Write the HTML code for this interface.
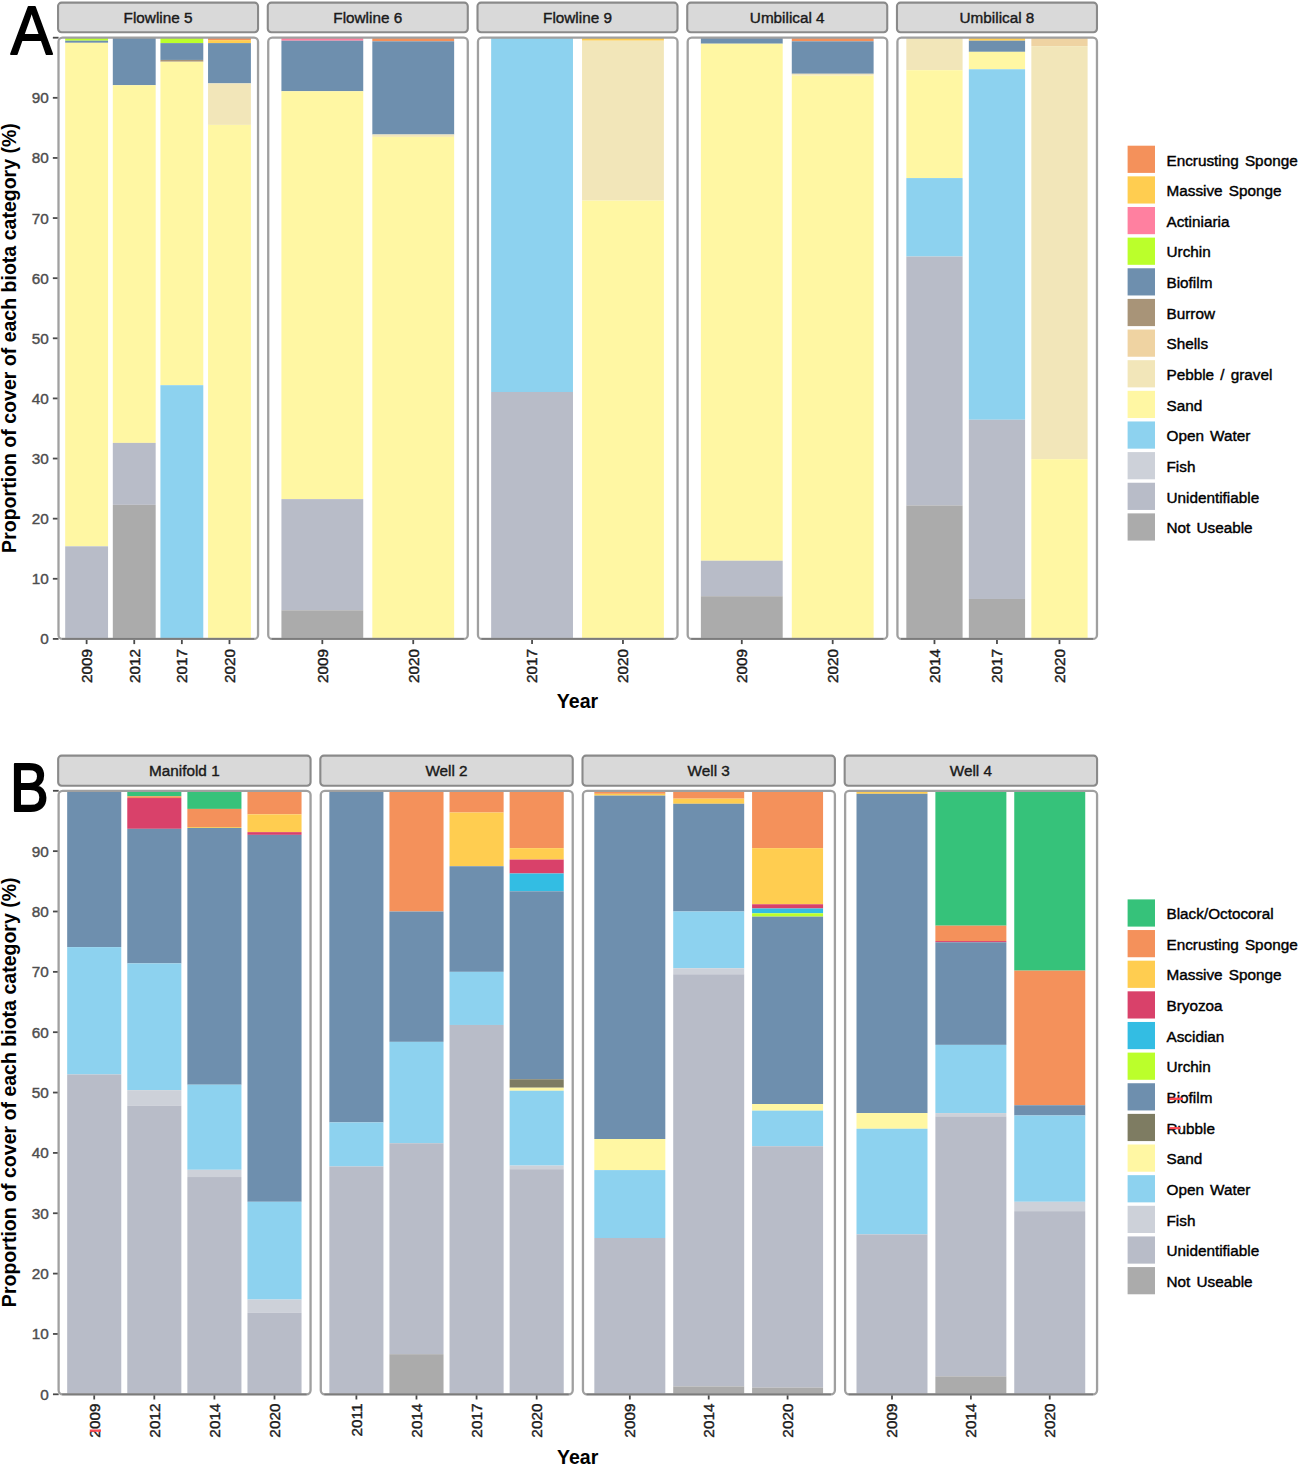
<!DOCTYPE html>
<html><head><meta charset="utf-8"><style>
html,body{margin:0;padding:0;background:#fff;width:1299px;height:1464px;overflow:hidden}
svg{display:block}
text{font-family:"Liberation Sans", sans-serif}
.t{stroke-width:0.35px}
</style></head><body>
<svg width="1299" height="1464" viewBox="0 0 1299 1464">
<rect width="1299" height="1464" fill="#fff"/>
<text transform="translate(10.68,53.6) scale(0.9,1)" font-size="69.48" fill="#000" stroke="#000" stroke-width="1.8" stroke-linejoin="round">A</text>
<line x1="52.85" y1="638.9" x2="58.55" y2="638.9" stroke="#4a4a4a" stroke-width="1.8"/>
<text x="48.65" y="644.4" text-anchor="end" font-size="15.3" fill="#4d4d4d" stroke="#4d4d4d" stroke-width="0.4">0</text>
<line x1="52.85" y1="578.78" x2="58.55" y2="578.78" stroke="#4a4a4a" stroke-width="1.8"/>
<text x="48.65" y="584.28" text-anchor="end" font-size="15.3" fill="#4d4d4d" stroke="#4d4d4d" stroke-width="0.4">10</text>
<line x1="52.85" y1="518.66" x2="58.55" y2="518.66" stroke="#4a4a4a" stroke-width="1.8"/>
<text x="48.65" y="524.16" text-anchor="end" font-size="15.3" fill="#4d4d4d" stroke="#4d4d4d" stroke-width="0.4">20</text>
<line x1="52.85" y1="458.54" x2="58.55" y2="458.54" stroke="#4a4a4a" stroke-width="1.8"/>
<text x="48.65" y="464.04" text-anchor="end" font-size="15.3" fill="#4d4d4d" stroke="#4d4d4d" stroke-width="0.4">30</text>
<line x1="52.85" y1="398.42" x2="58.55" y2="398.42" stroke="#4a4a4a" stroke-width="1.8"/>
<text x="48.65" y="403.92" text-anchor="end" font-size="15.3" fill="#4d4d4d" stroke="#4d4d4d" stroke-width="0.4">40</text>
<line x1="52.85" y1="338.3" x2="58.55" y2="338.3" stroke="#4a4a4a" stroke-width="1.8"/>
<text x="48.65" y="343.8" text-anchor="end" font-size="15.3" fill="#4d4d4d" stroke="#4d4d4d" stroke-width="0.4">50</text>
<line x1="52.85" y1="278.18" x2="58.55" y2="278.18" stroke="#4a4a4a" stroke-width="1.8"/>
<text x="48.65" y="283.68" text-anchor="end" font-size="15.3" fill="#4d4d4d" stroke="#4d4d4d" stroke-width="0.4">60</text>
<line x1="52.85" y1="218.06" x2="58.55" y2="218.06" stroke="#4a4a4a" stroke-width="1.8"/>
<text x="48.65" y="223.56" text-anchor="end" font-size="15.3" fill="#4d4d4d" stroke="#4d4d4d" stroke-width="0.4">70</text>
<line x1="52.85" y1="157.94" x2="58.55" y2="157.94" stroke="#4a4a4a" stroke-width="1.8"/>
<text x="48.65" y="163.44" text-anchor="end" font-size="15.3" fill="#4d4d4d" stroke="#4d4d4d" stroke-width="0.4">80</text>
<line x1="52.85" y1="97.82" x2="58.55" y2="97.82" stroke="#4a4a4a" stroke-width="1.8"/>
<text x="48.65" y="103.32" text-anchor="end" font-size="15.3" fill="#4d4d4d" stroke="#4d4d4d" stroke-width="0.4">90</text>
<line x1="52.85" y1="37.7" x2="58.55" y2="37.7" stroke="#4a4a4a" stroke-width="1.8"/>
<text transform="translate(15.5,338) rotate(-90)" text-anchor="middle" font-size="19.55" font-weight="bold" fill="#000">Proportion of cover of each biota category (%)</text>
<rect x="58.05" y="2.6" width="200" height="29.6" rx="3.5" fill="#d9d9d9" stroke="#8a8a8a" stroke-width="2.1"/>
<text x="158.05" y="22.8" text-anchor="middle" font-size="15.3" fill="#1a1a1a" stroke="#1a1a1a" stroke-width="0.4">Flowline 5</text>
<rect x="65.19" y="37.7" width="42.86" height="3.01" fill="#BBFF2B"/>
<rect x="65.19" y="40.71" width="42.86" height="2.1" fill="#6E8FAE"/>
<rect x="65.19" y="42.81" width="42.86" height="503.5" fill="#FFF7A3"/>
<rect x="65.19" y="546.32" width="42.86" height="92.58" fill="#B8BCC8"/>
<line x1="86.62" y1="638.9" x2="86.62" y2="644.1" stroke="#4a4a4a" stroke-width="1.8"/>
<text transform="translate(92.02,648.9) rotate(-90)" text-anchor="end" font-size="15.3" fill="#1a1a1a" stroke="#1a1a1a" stroke-width="0.4">2009</text>
<rect x="112.81" y="37.7" width="42.86" height="47.49" fill="#6E8FAE"/>
<rect x="112.81" y="85.19" width="42.86" height="357.71" fill="#FFF7A3"/>
<rect x="112.81" y="442.91" width="42.86" height="61.92" fill="#B8BCC8"/>
<rect x="112.81" y="504.83" width="42.86" height="134.07" fill="#ABABAB"/>
<line x1="134.24" y1="638.9" x2="134.24" y2="644.1" stroke="#4a4a4a" stroke-width="1.8"/>
<text transform="translate(139.64,648.9) rotate(-90)" text-anchor="end" font-size="15.3" fill="#1a1a1a" stroke="#1a1a1a" stroke-width="0.4">2012</text>
<rect x="160.43" y="37.7" width="42.86" height="5.41" fill="#BBFF2B"/>
<rect x="160.43" y="43.11" width="42.86" height="16.83" fill="#6E8FAE"/>
<rect x="160.43" y="59.94" width="42.86" height="1.8" fill="#A89478"/>
<rect x="160.43" y="61.75" width="42.86" height="323.45" fill="#FFF7A3"/>
<rect x="160.43" y="385.19" width="42.86" height="253.71" fill="#8DD2EF"/>
<line x1="181.86" y1="638.9" x2="181.86" y2="644.1" stroke="#4a4a4a" stroke-width="1.8"/>
<text transform="translate(187.26,648.9) rotate(-90)" text-anchor="end" font-size="15.3" fill="#1a1a1a" stroke="#1a1a1a" stroke-width="0.4">2017</text>
<rect x="208.05" y="37.7" width="42.86" height="2.4" fill="#F4915B"/>
<rect x="208.05" y="40.1" width="42.86" height="3.01" fill="#FFCD50"/>
<rect x="208.05" y="43.11" width="42.86" height="40.28" fill="#6E8FAE"/>
<rect x="208.05" y="83.39" width="42.86" height="41.48" fill="#F2E6B9"/>
<rect x="208.05" y="124.87" width="42.86" height="514.03" fill="#FFF7A3"/>
<line x1="229.48" y1="638.9" x2="229.48" y2="644.1" stroke="#4a4a4a" stroke-width="1.8"/>
<text transform="translate(234.88,648.9) rotate(-90)" text-anchor="end" font-size="15.3" fill="#1a1a1a" stroke="#1a1a1a" stroke-width="0.4">2020</text>
<rect x="58.5" y="37.7" width="199.55" height="601.2" rx="4" fill="none" stroke="#a0a0a0" stroke-width="2.3"/>
<line x1="62.05" y1="638.9" x2="254.05" y2="638.9" stroke="#7c7c7c" stroke-width="1.7"/>
<rect x="267.78" y="2.6" width="200" height="29.6" rx="3.5" fill="#d9d9d9" stroke="#8a8a8a" stroke-width="2.1"/>
<text x="367.78" y="22.8" text-anchor="middle" font-size="15.3" fill="#1a1a1a" stroke="#1a1a1a" stroke-width="0.4">Flowline 6</text>
<rect x="281.42" y="37.7" width="81.82" height="3.01" fill="#FF80A0"/>
<rect x="281.42" y="40.71" width="81.82" height="50.5" fill="#6E8FAE"/>
<rect x="281.42" y="91.21" width="81.82" height="407.91" fill="#FFF7A3"/>
<rect x="281.42" y="499.12" width="81.82" height="111.16" fill="#B8BCC8"/>
<rect x="281.42" y="610.28" width="81.82" height="28.62" fill="#ABABAB"/>
<line x1="322.33" y1="638.9" x2="322.33" y2="644.1" stroke="#4a4a4a" stroke-width="1.8"/>
<text transform="translate(327.73,648.9) rotate(-90)" text-anchor="end" font-size="15.3" fill="#1a1a1a" stroke="#1a1a1a" stroke-width="0.4">2009</text>
<rect x="372.33" y="37.7" width="81.82" height="3.61" fill="#F4915B"/>
<rect x="372.33" y="41.31" width="81.82" height="93.19" fill="#6E8FAE"/>
<rect x="372.33" y="134.49" width="81.82" height="2.4" fill="#F2E6B9"/>
<rect x="372.33" y="136.9" width="81.82" height="502" fill="#FFF7A3"/>
<line x1="413.23" y1="638.9" x2="413.23" y2="644.1" stroke="#4a4a4a" stroke-width="1.8"/>
<text transform="translate(418.63,648.9) rotate(-90)" text-anchor="end" font-size="15.3" fill="#1a1a1a" stroke="#1a1a1a" stroke-width="0.4">2020</text>
<rect x="268.23" y="37.7" width="199.55" height="601.2" rx="4" fill="none" stroke="#a0a0a0" stroke-width="2.3"/>
<line x1="271.78" y1="638.9" x2="463.78" y2="638.9" stroke="#7c7c7c" stroke-width="1.7"/>
<rect x="477.51" y="2.6" width="200" height="29.6" rx="3.5" fill="#d9d9d9" stroke="#8a8a8a" stroke-width="2.1"/>
<text x="577.51" y="22.8" text-anchor="middle" font-size="15.3" fill="#1a1a1a" stroke="#1a1a1a" stroke-width="0.4">Flowline 9</text>
<rect x="491.15" y="37.7" width="81.82" height="354.29" fill="#8DD2EF"/>
<rect x="491.15" y="391.99" width="81.82" height="246.91" fill="#B8BCC8"/>
<line x1="532.06" y1="638.9" x2="532.06" y2="644.1" stroke="#4a4a4a" stroke-width="1.8"/>
<text transform="translate(537.46,648.9) rotate(-90)" text-anchor="end" font-size="15.3" fill="#1a1a1a" stroke="#1a1a1a" stroke-width="0.4">2017</text>
<rect x="582.06" y="37.7" width="81.82" height="3.01" fill="#FFCD50"/>
<rect x="582.06" y="40.71" width="81.82" height="159.92" fill="#F2E6B9"/>
<rect x="582.06" y="200.63" width="81.82" height="438.27" fill="#FFF7A3"/>
<line x1="622.96" y1="638.9" x2="622.96" y2="644.1" stroke="#4a4a4a" stroke-width="1.8"/>
<text transform="translate(628.36,648.9) rotate(-90)" text-anchor="end" font-size="15.3" fill="#1a1a1a" stroke="#1a1a1a" stroke-width="0.4">2020</text>
<rect x="477.96" y="37.7" width="199.55" height="601.2" rx="4" fill="none" stroke="#a0a0a0" stroke-width="2.3"/>
<line x1="481.51" y1="638.9" x2="673.51" y2="638.9" stroke="#7c7c7c" stroke-width="1.7"/>
<rect x="687.24" y="2.6" width="200" height="29.6" rx="3.5" fill="#d9d9d9" stroke="#8a8a8a" stroke-width="2.1"/>
<text x="787.24" y="22.8" text-anchor="middle" font-size="15.3" fill="#1a1a1a" stroke="#1a1a1a" stroke-width="0.4">Umbilical 4</text>
<rect x="700.88" y="37.7" width="81.82" height="6.01" fill="#6E8FAE"/>
<rect x="700.88" y="43.71" width="81.82" height="517.03" fill="#FFF7A3"/>
<rect x="700.88" y="560.74" width="81.82" height="35.47" fill="#B8BCC8"/>
<rect x="700.88" y="596.21" width="81.82" height="42.69" fill="#ABABAB"/>
<line x1="741.79" y1="638.9" x2="741.79" y2="644.1" stroke="#4a4a4a" stroke-width="1.8"/>
<text transform="translate(747.19,648.9) rotate(-90)" text-anchor="end" font-size="15.3" fill="#1a1a1a" stroke="#1a1a1a" stroke-width="0.4">2009</text>
<rect x="791.79" y="37.7" width="81.82" height="3.61" fill="#F4915B"/>
<rect x="791.79" y="41.31" width="81.82" height="32.46" fill="#6E8FAE"/>
<rect x="791.79" y="73.77" width="81.82" height="1.8" fill="#F2E6B9"/>
<rect x="791.79" y="75.58" width="81.82" height="563.32" fill="#FFF7A3"/>
<line x1="832.69" y1="638.9" x2="832.69" y2="644.1" stroke="#4a4a4a" stroke-width="1.8"/>
<text transform="translate(838.09,648.9) rotate(-90)" text-anchor="end" font-size="15.3" fill="#1a1a1a" stroke="#1a1a1a" stroke-width="0.4">2020</text>
<rect x="687.69" y="37.7" width="199.55" height="601.2" rx="4" fill="none" stroke="#a0a0a0" stroke-width="2.3"/>
<line x1="691.24" y1="638.9" x2="883.24" y2="638.9" stroke="#7c7c7c" stroke-width="1.7"/>
<rect x="896.97" y="2.6" width="200" height="29.6" rx="3.5" fill="#d9d9d9" stroke="#8a8a8a" stroke-width="2.1"/>
<text x="996.97" y="22.8" text-anchor="middle" font-size="15.3" fill="#1a1a1a" stroke="#1a1a1a" stroke-width="0.4">Umbilical 8</text>
<rect x="906.34" y="37.7" width="56.25" height="32.46" fill="#F2E6B9"/>
<rect x="906.34" y="70.16" width="56.25" height="107.92" fill="#FFF7A3"/>
<rect x="906.34" y="178.08" width="56.25" height="78.46" fill="#8DD2EF"/>
<rect x="906.34" y="256.54" width="56.25" height="248.9" fill="#B8BCC8"/>
<rect x="906.34" y="505.43" width="56.25" height="133.47" fill="#ABABAB"/>
<line x1="934.47" y1="638.9" x2="934.47" y2="644.1" stroke="#4a4a4a" stroke-width="1.8"/>
<text transform="translate(939.87,648.9) rotate(-90)" text-anchor="end" font-size="15.3" fill="#1a1a1a" stroke="#1a1a1a" stroke-width="0.4">2014</text>
<rect x="968.84" y="37.7" width="56.25" height="3.01" fill="#FFCD50"/>
<rect x="968.84" y="40.71" width="56.25" height="11.12" fill="#6E8FAE"/>
<rect x="968.84" y="51.83" width="56.25" height="17.43" fill="#FFF7A3"/>
<rect x="968.84" y="69.26" width="56.25" height="350.5" fill="#8DD2EF"/>
<rect x="968.84" y="419.76" width="56.25" height="179.22" fill="#B8BCC8"/>
<rect x="968.84" y="598.98" width="56.25" height="39.92" fill="#ABABAB"/>
<line x1="996.97" y1="638.9" x2="996.97" y2="644.1" stroke="#4a4a4a" stroke-width="1.8"/>
<text transform="translate(1002.37,648.9) rotate(-90)" text-anchor="end" font-size="15.3" fill="#1a1a1a" stroke="#1a1a1a" stroke-width="0.4">2017</text>
<rect x="1031.34" y="37.7" width="56.25" height="8.42" fill="#EFD3A2"/>
<rect x="1031.34" y="46.12" width="56.25" height="413.02" fill="#F2E6B9"/>
<rect x="1031.34" y="459.14" width="56.25" height="179.76" fill="#FFF7A3"/>
<line x1="1059.47" y1="638.9" x2="1059.47" y2="644.1" stroke="#4a4a4a" stroke-width="1.8"/>
<text transform="translate(1064.87,648.9) rotate(-90)" text-anchor="end" font-size="15.3" fill="#1a1a1a" stroke="#1a1a1a" stroke-width="0.4">2020</text>
<rect x="897.42" y="37.7" width="199.55" height="601.2" rx="4" fill="none" stroke="#a0a0a0" stroke-width="2.3"/>
<line x1="900.97" y1="638.9" x2="1092.97" y2="638.9" stroke="#7c7c7c" stroke-width="1.7"/>
<text x="577.51" y="708" text-anchor="middle" font-size="19.55" font-weight="bold" fill="#000">Year</text>
<rect x="1127.6" y="145.7" width="27.4" height="27.2" fill="#F4915B"/>
<text x="1166.5" y="165.5" word-spacing="1.9" font-size="15.3" fill="#000" stroke="#000" stroke-width="0.4">Encrusting Sponge</text>
<rect x="1127.6" y="176.34" width="27.4" height="27.2" fill="#FFCD50"/>
<text x="1166.5" y="196.14" word-spacing="1.9" font-size="15.3" fill="#000" stroke="#000" stroke-width="0.4">Massive Sponge</text>
<rect x="1127.6" y="206.98" width="27.4" height="27.2" fill="#FF80A0"/>
<text x="1166.5" y="226.78" word-spacing="1.9" font-size="15.3" fill="#000" stroke="#000" stroke-width="0.4">Actiniaria</text>
<rect x="1127.6" y="237.62" width="27.4" height="27.2" fill="#BBFF2B"/>
<text x="1166.5" y="257.42" word-spacing="1.9" font-size="15.3" fill="#000" stroke="#000" stroke-width="0.4">Urchin</text>
<rect x="1127.6" y="268.26" width="27.4" height="27.2" fill="#6E8FAE"/>
<text x="1166.5" y="288.06" word-spacing="1.9" font-size="15.3" fill="#000" stroke="#000" stroke-width="0.4">Biofilm</text>
<rect x="1127.6" y="298.9" width="27.4" height="27.2" fill="#A89478"/>
<text x="1166.5" y="318.7" word-spacing="1.9" font-size="15.3" fill="#000" stroke="#000" stroke-width="0.4">Burrow</text>
<rect x="1127.6" y="329.54" width="27.4" height="27.2" fill="#EFD3A2"/>
<text x="1166.5" y="349.34" word-spacing="1.9" font-size="15.3" fill="#000" stroke="#000" stroke-width="0.4">Shells</text>
<rect x="1127.6" y="360.18" width="27.4" height="27.2" fill="#F2E6B9"/>
<text x="1166.5" y="379.98" word-spacing="1.9" font-size="15.3" fill="#000" stroke="#000" stroke-width="0.4">Pebble / gravel</text>
<rect x="1127.6" y="390.82" width="27.4" height="27.2" fill="#FFF7A3"/>
<text x="1166.5" y="410.62" word-spacing="1.9" font-size="15.3" fill="#000" stroke="#000" stroke-width="0.4">Sand</text>
<rect x="1127.6" y="421.46" width="27.4" height="27.2" fill="#8DD2EF"/>
<text x="1166.5" y="441.26" word-spacing="1.9" font-size="15.3" fill="#000" stroke="#000" stroke-width="0.4">Open Water</text>
<rect x="1127.6" y="452.1" width="27.4" height="27.2" fill="#CDD1D9"/>
<text x="1166.5" y="471.9" word-spacing="1.9" font-size="15.3" fill="#000" stroke="#000" stroke-width="0.4">Fish</text>
<rect x="1127.6" y="482.74" width="27.4" height="27.2" fill="#B8BCC8"/>
<text x="1166.5" y="502.54" word-spacing="1.9" font-size="15.3" fill="#000" stroke="#000" stroke-width="0.4">Unidentifiable</text>
<rect x="1127.6" y="513.38" width="27.4" height="27.2" fill="#ABABAB"/>
<text x="1166.5" y="533.18" word-spacing="1.9" font-size="15.3" fill="#000" stroke="#000" stroke-width="0.4">Not Useable</text>
<text transform="translate(9.93,811) scale(0.85,1)" font-size="68.17" fill="#000" stroke="#000" stroke-width="2" stroke-linejoin="round">B</text>
<line x1="52.96" y1="1394.3" x2="58.66" y2="1394.3" stroke="#4a4a4a" stroke-width="1.8"/>
<text x="48.76" y="1399.8" text-anchor="end" font-size="15.3" fill="#4d4d4d" stroke="#4d4d4d" stroke-width="0.4">0</text>
<line x1="52.96" y1="1333.95" x2="58.66" y2="1333.95" stroke="#4a4a4a" stroke-width="1.8"/>
<text x="48.76" y="1339.45" text-anchor="end" font-size="15.3" fill="#4d4d4d" stroke="#4d4d4d" stroke-width="0.4">10</text>
<line x1="52.96" y1="1273.6" x2="58.66" y2="1273.6" stroke="#4a4a4a" stroke-width="1.8"/>
<text x="48.76" y="1279.1" text-anchor="end" font-size="15.3" fill="#4d4d4d" stroke="#4d4d4d" stroke-width="0.4">20</text>
<line x1="52.96" y1="1213.25" x2="58.66" y2="1213.25" stroke="#4a4a4a" stroke-width="1.8"/>
<text x="48.76" y="1218.75" text-anchor="end" font-size="15.3" fill="#4d4d4d" stroke="#4d4d4d" stroke-width="0.4">30</text>
<line x1="52.96" y1="1152.9" x2="58.66" y2="1152.9" stroke="#4a4a4a" stroke-width="1.8"/>
<text x="48.76" y="1158.4" text-anchor="end" font-size="15.3" fill="#4d4d4d" stroke="#4d4d4d" stroke-width="0.4">40</text>
<line x1="52.96" y1="1092.55" x2="58.66" y2="1092.55" stroke="#4a4a4a" stroke-width="1.8"/>
<text x="48.76" y="1098.05" text-anchor="end" font-size="15.3" fill="#4d4d4d" stroke="#4d4d4d" stroke-width="0.4">50</text>
<line x1="52.96" y1="1032.2" x2="58.66" y2="1032.2" stroke="#4a4a4a" stroke-width="1.8"/>
<text x="48.76" y="1037.7" text-anchor="end" font-size="15.3" fill="#4d4d4d" stroke="#4d4d4d" stroke-width="0.4">60</text>
<line x1="52.96" y1="971.85" x2="58.66" y2="971.85" stroke="#4a4a4a" stroke-width="1.8"/>
<text x="48.76" y="977.35" text-anchor="end" font-size="15.3" fill="#4d4d4d" stroke="#4d4d4d" stroke-width="0.4">70</text>
<line x1="52.96" y1="911.5" x2="58.66" y2="911.5" stroke="#4a4a4a" stroke-width="1.8"/>
<text x="48.76" y="917" text-anchor="end" font-size="15.3" fill="#4d4d4d" stroke="#4d4d4d" stroke-width="0.4">80</text>
<line x1="52.96" y1="851.15" x2="58.66" y2="851.15" stroke="#4a4a4a" stroke-width="1.8"/>
<text x="48.76" y="856.65" text-anchor="end" font-size="15.3" fill="#4d4d4d" stroke="#4d4d4d" stroke-width="0.4">90</text>
<line x1="52.96" y1="790.8" x2="58.66" y2="790.8" stroke="#4a4a4a" stroke-width="1.8"/>
<text transform="translate(15.5,1092.25) rotate(-90)" text-anchor="middle" font-size="19.55" font-weight="bold" fill="#000">Proportion of cover of each biota category (%)</text>
<rect x="58.16" y="755.6" width="252.4" height="30.2" rx="3.5" fill="#d9d9d9" stroke="#8a8a8a" stroke-width="2.1"/>
<text x="184.36" y="776.1" text-anchor="middle" font-size="15.3" fill="#1a1a1a" stroke="#1a1a1a" stroke-width="0.4">Manifold 1</text>
<rect x="67.17" y="790.8" width="54.09" height="156.31" fill="#6E8FAE"/>
<rect x="67.17" y="947.11" width="54.09" height="127.34" fill="#8DD2EF"/>
<rect x="67.17" y="1074.44" width="54.09" height="319.86" fill="#B8BCC8"/>
<line x1="94.22" y1="1394.3" x2="94.22" y2="1399.5" stroke="#4a4a4a" stroke-width="1.8"/>
<text transform="translate(99.62,1403.6) rotate(-90)" text-anchor="end" font-size="15.3" fill="#1a1a1a" stroke="#1a1a1a" stroke-width="0.4">2009</text>
<rect x="127.27" y="790.8" width="54.09" height="5.43" fill="#36C27A"/>
<rect x="127.27" y="796.23" width="54.09" height="1.81" fill="#F4915B"/>
<rect x="127.27" y="798.04" width="54.09" height="30.78" fill="#D9416A"/>
<rect x="127.27" y="828.82" width="54.09" height="134.58" fill="#6E8FAE"/>
<rect x="127.27" y="963.4" width="54.09" height="126.74" fill="#8DD2EF"/>
<rect x="127.27" y="1090.14" width="54.09" height="15.69" fill="#CDD1D9"/>
<rect x="127.27" y="1105.83" width="54.09" height="288.47" fill="#B8BCC8"/>
<line x1="154.31" y1="1394.3" x2="154.31" y2="1399.5" stroke="#4a4a4a" stroke-width="1.8"/>
<text transform="translate(159.71,1403.6) rotate(-90)" text-anchor="end" font-size="15.3" fill="#1a1a1a" stroke="#1a1a1a" stroke-width="0.4">2012</text>
<rect x="187.36" y="790.8" width="54.09" height="18.11" fill="#36C27A"/>
<rect x="187.36" y="808.9" width="54.09" height="18.11" fill="#F4915B"/>
<rect x="187.36" y="827.01" width="54.09" height="0.91" fill="#FFCD50"/>
<rect x="187.36" y="827.92" width="54.09" height="256.79" fill="#6E8FAE"/>
<rect x="187.36" y="1084.7" width="54.09" height="85.09" fill="#8DD2EF"/>
<rect x="187.36" y="1169.8" width="54.09" height="7.24" fill="#CDD1D9"/>
<rect x="187.36" y="1177.04" width="54.09" height="217.26" fill="#B8BCC8"/>
<line x1="214.41" y1="1394.3" x2="214.41" y2="1399.5" stroke="#4a4a4a" stroke-width="1.8"/>
<text transform="translate(219.81,1403.6) rotate(-90)" text-anchor="end" font-size="15.3" fill="#1a1a1a" stroke="#1a1a1a" stroke-width="0.4">2014</text>
<rect x="247.46" y="790.8" width="54.09" height="23.54" fill="#F4915B"/>
<rect x="247.46" y="814.34" width="54.09" height="17.8" fill="#FFCD50"/>
<rect x="247.46" y="832.14" width="54.09" height="2.72" fill="#D9416A"/>
<rect x="247.46" y="834.86" width="54.09" height="366.93" fill="#6E8FAE"/>
<rect x="247.46" y="1201.78" width="54.09" height="97.77" fill="#8DD2EF"/>
<rect x="247.46" y="1299.55" width="54.09" height="13.28" fill="#CDD1D9"/>
<rect x="247.46" y="1312.83" width="54.09" height="81.47" fill="#B8BCC8"/>
<line x1="274.5" y1="1394.3" x2="274.5" y2="1399.5" stroke="#4a4a4a" stroke-width="1.8"/>
<text transform="translate(279.9,1403.6) rotate(-90)" text-anchor="end" font-size="15.3" fill="#1a1a1a" stroke="#1a1a1a" stroke-width="0.4">2020</text>
<rect x="58.61" y="790.8" width="251.95" height="603.5" rx="4" fill="none" stroke="#a0a0a0" stroke-width="2.3"/>
<line x1="62.16" y1="1394.3" x2="306.56" y2="1394.3" stroke="#7c7c7c" stroke-width="1.7"/>
<rect x="320.33" y="755.6" width="252.4" height="30.2" rx="3.5" fill="#d9d9d9" stroke="#8a8a8a" stroke-width="2.1"/>
<text x="446.53" y="776.1" text-anchor="middle" font-size="15.3" fill="#1a1a1a" stroke="#1a1a1a" stroke-width="0.4">Well 2</text>
<rect x="329.34" y="790.8" width="54.09" height="331.62" fill="#6E8FAE"/>
<rect x="329.34" y="1122.42" width="54.09" height="44.06" fill="#8DD2EF"/>
<rect x="329.34" y="1166.48" width="54.09" height="227.82" fill="#B8BCC8"/>
<line x1="356.39" y1="1394.3" x2="356.39" y2="1399.5" stroke="#4a4a4a" stroke-width="1.8"/>
<text transform="translate(361.79,1403.6) rotate(-90)" text-anchor="end" font-size="15.3" fill="#1a1a1a" stroke="#1a1a1a" stroke-width="0.4">2011</text>
<rect x="389.44" y="790.8" width="54.09" height="120.7" fill="#F4915B"/>
<rect x="389.44" y="911.5" width="54.09" height="130.36" fill="#6E8FAE"/>
<rect x="389.44" y="1041.86" width="54.09" height="101.39" fill="#8DD2EF"/>
<rect x="389.44" y="1143.24" width="54.09" height="210.92" fill="#B8BCC8"/>
<rect x="389.44" y="1354.17" width="54.09" height="40.13" fill="#ABABAB"/>
<line x1="416.48" y1="1394.3" x2="416.48" y2="1399.5" stroke="#4a4a4a" stroke-width="1.8"/>
<text transform="translate(421.88,1403.6) rotate(-90)" text-anchor="end" font-size="15.3" fill="#1a1a1a" stroke="#1a1a1a" stroke-width="0.4">2014</text>
<rect x="449.53" y="790.8" width="54.09" height="21.73" fill="#F4915B"/>
<rect x="449.53" y="812.53" width="54.09" height="53.71" fill="#FFCD50"/>
<rect x="449.53" y="866.24" width="54.09" height="105.61" fill="#6E8FAE"/>
<rect x="449.53" y="971.85" width="54.09" height="53.11" fill="#8DD2EF"/>
<rect x="449.53" y="1024.96" width="54.09" height="369.34" fill="#B8BCC8"/>
<line x1="476.58" y1="1394.3" x2="476.58" y2="1399.5" stroke="#4a4a4a" stroke-width="1.8"/>
<text transform="translate(481.98,1403.6) rotate(-90)" text-anchor="end" font-size="15.3" fill="#1a1a1a" stroke="#1a1a1a" stroke-width="0.4">2017</text>
<rect x="509.63" y="790.8" width="54.09" height="57.33" fill="#F4915B"/>
<rect x="509.63" y="848.13" width="54.09" height="11.47" fill="#FFCD50"/>
<rect x="509.63" y="859.6" width="54.09" height="13.88" fill="#D9416A"/>
<rect x="509.63" y="873.48" width="54.09" height="17.8" fill="#33BDE3"/>
<rect x="509.63" y="891.28" width="54.09" height="187.99" fill="#6E8FAE"/>
<rect x="509.63" y="1079.27" width="54.09" height="8.45" fill="#7E7C62"/>
<rect x="509.63" y="1087.72" width="54.09" height="3.02" fill="#FFF7A3"/>
<rect x="509.63" y="1090.74" width="54.09" height="74.83" fill="#8DD2EF"/>
<rect x="509.63" y="1165.57" width="54.09" height="3.62" fill="#CDD1D9"/>
<rect x="509.63" y="1169.19" width="54.09" height="225.11" fill="#B8BCC8"/>
<line x1="536.67" y1="1394.3" x2="536.67" y2="1399.5" stroke="#4a4a4a" stroke-width="1.8"/>
<text transform="translate(542.07,1403.6) rotate(-90)" text-anchor="end" font-size="15.3" fill="#1a1a1a" stroke="#1a1a1a" stroke-width="0.4">2020</text>
<rect x="320.78" y="790.8" width="251.95" height="603.5" rx="4" fill="none" stroke="#a0a0a0" stroke-width="2.3"/>
<line x1="324.33" y1="1394.3" x2="568.73" y2="1394.3" stroke="#7c7c7c" stroke-width="1.7"/>
<rect x="582.5" y="755.6" width="252.4" height="30.2" rx="3.5" fill="#d9d9d9" stroke="#8a8a8a" stroke-width="2.1"/>
<text x="708.7" y="776.1" text-anchor="middle" font-size="15.3" fill="#1a1a1a" stroke="#1a1a1a" stroke-width="0.4">Well 3</text>
<rect x="594.33" y="790.8" width="70.99" height="3.02" fill="#F4915B"/>
<rect x="594.33" y="793.82" width="70.99" height="1.81" fill="#FFCD50"/>
<rect x="594.33" y="795.63" width="70.99" height="343.39" fill="#6E8FAE"/>
<rect x="594.33" y="1139.02" width="70.99" height="31.08" fill="#FFF7A3"/>
<rect x="594.33" y="1170.1" width="70.99" height="67.89" fill="#8DD2EF"/>
<rect x="594.33" y="1237.99" width="70.99" height="156.31" fill="#B8BCC8"/>
<line x1="629.83" y1="1394.3" x2="629.83" y2="1399.5" stroke="#4a4a4a" stroke-width="1.8"/>
<text transform="translate(635.23,1403.6) rotate(-90)" text-anchor="end" font-size="15.3" fill="#1a1a1a" stroke="#1a1a1a" stroke-width="0.4">2009</text>
<rect x="673.21" y="790.8" width="70.99" height="7.85" fill="#F4915B"/>
<rect x="673.21" y="798.65" width="70.99" height="5.13" fill="#FFCD50"/>
<rect x="673.21" y="803.78" width="70.99" height="107.72" fill="#6E8FAE"/>
<rect x="673.21" y="911.5" width="70.99" height="56.73" fill="#8DD2EF"/>
<rect x="673.21" y="968.23" width="70.99" height="6.03" fill="#CDD1D9"/>
<rect x="673.21" y="974.26" width="70.99" height="412.19" fill="#B8BCC8"/>
<rect x="673.21" y="1386.45" width="70.99" height="7.85" fill="#ABABAB"/>
<line x1="708.7" y1="1394.3" x2="708.7" y2="1399.5" stroke="#4a4a4a" stroke-width="1.8"/>
<text transform="translate(714.1,1403.6) rotate(-90)" text-anchor="end" font-size="15.3" fill="#1a1a1a" stroke="#1a1a1a" stroke-width="0.4">2014</text>
<rect x="752.08" y="790.8" width="70.99" height="57.33" fill="#F4915B"/>
<rect x="752.08" y="848.13" width="70.99" height="56.13" fill="#FFCD50"/>
<rect x="752.08" y="904.26" width="70.99" height="4.22" fill="#D9416A"/>
<rect x="752.08" y="908.48" width="70.99" height="4.83" fill="#33BDE3"/>
<rect x="752.08" y="913.31" width="70.99" height="3.32" fill="#BBFF2B"/>
<rect x="752.08" y="916.63" width="70.99" height="187.39" fill="#6E8FAE"/>
<rect x="752.08" y="1104.02" width="70.99" height="6.64" fill="#FFF7A3"/>
<rect x="752.08" y="1110.65" width="70.99" height="35.61" fill="#8DD2EF"/>
<rect x="752.08" y="1146.26" width="70.99" height="241.4" fill="#B8BCC8"/>
<rect x="752.08" y="1387.66" width="70.99" height="6.64" fill="#ABABAB"/>
<line x1="787.58" y1="1394.3" x2="787.58" y2="1399.5" stroke="#4a4a4a" stroke-width="1.8"/>
<text transform="translate(792.98,1403.6) rotate(-90)" text-anchor="end" font-size="15.3" fill="#1a1a1a" stroke="#1a1a1a" stroke-width="0.4">2020</text>
<rect x="582.95" y="790.8" width="251.95" height="603.5" rx="4" fill="none" stroke="#a0a0a0" stroke-width="2.3"/>
<line x1="586.5" y1="1394.3" x2="830.9" y2="1394.3" stroke="#7c7c7c" stroke-width="1.7"/>
<rect x="844.67" y="755.6" width="252.4" height="30.2" rx="3.5" fill="#d9d9d9" stroke="#8a8a8a" stroke-width="2.1"/>
<text x="970.87" y="776.1" text-anchor="middle" font-size="15.3" fill="#1a1a1a" stroke="#1a1a1a" stroke-width="0.4">Well 4</text>
<rect x="856.5" y="790.8" width="70.99" height="3.02" fill="#FFCD50"/>
<rect x="856.5" y="793.82" width="70.99" height="319.25" fill="#6E8FAE"/>
<rect x="856.5" y="1113.07" width="70.99" height="15.69" fill="#FFF7A3"/>
<rect x="856.5" y="1128.76" width="70.99" height="105.61" fill="#8DD2EF"/>
<rect x="856.5" y="1234.37" width="70.99" height="159.93" fill="#B8BCC8"/>
<line x1="892" y1="1394.3" x2="892" y2="1399.5" stroke="#4a4a4a" stroke-width="1.8"/>
<text transform="translate(897.39,1403.6) rotate(-90)" text-anchor="end" font-size="15.3" fill="#1a1a1a" stroke="#1a1a1a" stroke-width="0.4">2009</text>
<rect x="935.38" y="790.8" width="70.99" height="134.88" fill="#36C27A"/>
<rect x="935.38" y="925.68" width="70.99" height="15.39" fill="#F4915B"/>
<rect x="935.38" y="941.07" width="70.99" height="1.21" fill="#D9416A"/>
<rect x="935.38" y="942.28" width="70.99" height="102.6" fill="#6E8FAE"/>
<rect x="935.38" y="1044.87" width="70.99" height="68.2" fill="#8DD2EF"/>
<rect x="935.38" y="1113.07" width="70.99" height="3.32" fill="#CDD1D9"/>
<rect x="935.38" y="1116.39" width="70.99" height="259.99" fill="#B8BCC8"/>
<rect x="935.38" y="1376.38" width="70.99" height="17.92" fill="#ABABAB"/>
<line x1="970.87" y1="1394.3" x2="970.87" y2="1399.5" stroke="#4a4a4a" stroke-width="1.8"/>
<text transform="translate(976.27,1403.6) rotate(-90)" text-anchor="end" font-size="15.3" fill="#1a1a1a" stroke="#1a1a1a" stroke-width="0.4">2014</text>
<rect x="1014.25" y="790.8" width="70.99" height="179.84" fill="#36C27A"/>
<rect x="1014.25" y="970.64" width="70.99" height="134.58" fill="#F4915B"/>
<rect x="1014.25" y="1105.22" width="70.99" height="10.26" fill="#6E8FAE"/>
<rect x="1014.25" y="1115.48" width="70.99" height="86.3" fill="#8DD2EF"/>
<rect x="1014.25" y="1201.78" width="70.99" height="9.35" fill="#CDD1D9"/>
<rect x="1014.25" y="1211.14" width="70.99" height="183.16" fill="#B8BCC8"/>
<line x1="1049.74" y1="1394.3" x2="1049.74" y2="1399.5" stroke="#4a4a4a" stroke-width="1.8"/>
<text transform="translate(1055.14,1403.6) rotate(-90)" text-anchor="end" font-size="15.3" fill="#1a1a1a" stroke="#1a1a1a" stroke-width="0.4">2020</text>
<rect x="845.12" y="790.8" width="251.95" height="603.5" rx="4" fill="none" stroke="#a0a0a0" stroke-width="2.3"/>
<line x1="848.67" y1="1394.3" x2="1093.07" y2="1394.3" stroke="#7c7c7c" stroke-width="1.7"/>
<text x="577.62" y="1464.2" text-anchor="middle" font-size="19.55" font-weight="bold" fill="#000">Year</text>
<rect x="1127.6" y="899.4" width="27.4" height="27.2" fill="#36C27A"/>
<text x="1166.5" y="919.2" word-spacing="1.9" font-size="15.3" fill="#000" stroke="#000" stroke-width="0.4">Black/Octocoral</text>
<rect x="1127.6" y="930.04" width="27.4" height="27.2" fill="#F4915B"/>
<text x="1166.5" y="949.84" word-spacing="1.9" font-size="15.3" fill="#000" stroke="#000" stroke-width="0.4">Encrusting Sponge</text>
<rect x="1127.6" y="960.68" width="27.4" height="27.2" fill="#FFCD50"/>
<text x="1166.5" y="980.48" word-spacing="1.9" font-size="15.3" fill="#000" stroke="#000" stroke-width="0.4">Massive Sponge</text>
<rect x="1127.6" y="991.32" width="27.4" height="27.2" fill="#D9416A"/>
<text x="1166.5" y="1011.12" word-spacing="1.9" font-size="15.3" fill="#000" stroke="#000" stroke-width="0.4">Bryozoa</text>
<rect x="1127.6" y="1021.96" width="27.4" height="27.2" fill="#33BDE3"/>
<text x="1166.5" y="1041.76" word-spacing="1.9" font-size="15.3" fill="#000" stroke="#000" stroke-width="0.4">Ascidian</text>
<rect x="1127.6" y="1052.6" width="27.4" height="27.2" fill="#BBFF2B"/>
<text x="1166.5" y="1072.4" word-spacing="1.9" font-size="15.3" fill="#000" stroke="#000" stroke-width="0.4">Urchin</text>
<rect x="1127.6" y="1083.24" width="27.4" height="27.2" fill="#6E8FAE"/>
<text x="1166.5" y="1103.04" word-spacing="1.9" font-size="15.3" fill="#000" stroke="#000" stroke-width="0.4">Biofilm</text>
<rect x="1127.6" y="1113.88" width="27.4" height="27.2" fill="#7E7C62"/>
<text x="1166.5" y="1133.68" word-spacing="1.9" font-size="15.3" fill="#000" stroke="#000" stroke-width="0.4">Rubble</text>
<rect x="1127.6" y="1144.52" width="27.4" height="27.2" fill="#FFF7A3"/>
<text x="1166.5" y="1164.32" word-spacing="1.9" font-size="15.3" fill="#000" stroke="#000" stroke-width="0.4">Sand</text>
<rect x="1127.6" y="1175.16" width="27.4" height="27.2" fill="#8DD2EF"/>
<text x="1166.5" y="1194.96" word-spacing="1.9" font-size="15.3" fill="#000" stroke="#000" stroke-width="0.4">Open Water</text>
<rect x="1127.6" y="1205.8" width="27.4" height="27.2" fill="#CDD1D9"/>
<text x="1166.5" y="1225.6" word-spacing="1.9" font-size="15.3" fill="#000" stroke="#000" stroke-width="0.4">Fish</text>
<rect x="1127.6" y="1236.44" width="27.4" height="27.2" fill="#B8BCC8"/>
<text x="1166.5" y="1256.24" word-spacing="1.9" font-size="15.3" fill="#000" stroke="#000" stroke-width="0.4">Unidentifiable</text>
<rect x="1127.6" y="1267.08" width="27.4" height="27.2" fill="#ABABAB"/>
<text x="1166.5" y="1286.88" word-spacing="1.9" font-size="15.3" fill="#000" stroke="#000" stroke-width="0.4">Not Useable</text>
<rect x="1169.4" y="1097.6" width="13.6" height="2.4" fill="#ff4a55"/>
<rect x="1169.4" y="1127.1" width="11.4" height="2.2" fill="#ff4a55"/>
<rect x="89.8" y="1429.5" width="11.2" height="2.3" fill="#ff4a55"/>
</svg></body></html>
